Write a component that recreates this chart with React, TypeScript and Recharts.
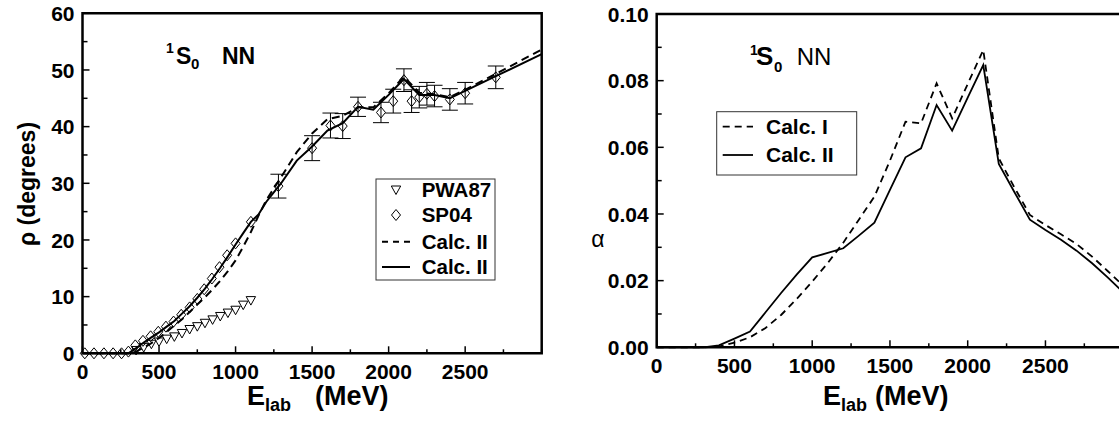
import React from "react"
import {
  ComposedChart,
  Line,
  Scatter,
  ErrorBar,
  XAxis,
  YAxis,
  ReferenceArea,
} from "recharts"

const FONT = '"Liberation Sans", Arial, Helvetica, sans-serif'

// ---- left panel: rho (degrees) vs E_lab ----
const pwaE = [350, 400, 450, 500, 550, 600, 650, 700, 750, 800, 850, 900, 950, 1000, 1050, 1100]
const pwaRho = [0.5, 1.0, 1.6, 2.0, 2.5, 2.9, 3.5, 4.2, 4.7, 5.3, 5.9, 6.5, 7.1, 7.6, 8.5, 9.3]

const spLowE = [15, 75, 140, 200, 255, 300, 345, 395, 445, 495, 545, 595, 645, 700, 750, 795, 845, 895, 945, 1000, 1100]
const spLowRho = [0, 0, 0, 0, 0, 0.3, 1.4, 2.2, 3.0, 3.8, 4.7, 5.6, 6.8, 8.1, 9.6, 11.3, 13.2, 15.2, 17.3, 19.4, 23.2]

const spHighE = [1280, 1500, 1620, 1700, 1800, 1950, 2030, 2100, 2150, 2200, 2250, 2300, 2400, 2500, 2700]
const spHighRho = [29.5, 36.2, 40.2, 40.1, 43.5, 42.5, 44.5, 48.2, 44.5, 45.2, 45.8, 45.4, 44.8, 45.9, 48.7]
const spHighErr = [2.1, 2.2, 2.2, 2.2, 1.7, 1.8, 2.1, 2.0, 2.0, 1.9, 2.0, 1.9, 1.9, 1.9, 2.0]

const calcE = [0, 300, 350, 400, 450, 500, 550, 600, 650, 700, 750, 800, 850, 900, 950, 1000, 1050, 1100, 1150, 1200, 1300, 1400, 1500, 1600, 1700, 1800, 1900, 2000, 2100, 2200, 2300, 2400, 2500, 2700, 3000]
const rhoDashed = [0, 0, 0.3, 1.0, 1.8, 2.7, 3.8, 4.9, 6.0, 7.3, 8.6, 9.9, 11.3, 12.8, 14.5, 16.4, 18.8, 21.4, 24.3, 27.0, 31.2, 35.5, 38.8, 41.3, 41.9, 43.4, 43.4, 45.9, 48.8, 46.0, 45.7, 45.2, 46.5, 49.3, 53.6]
const rhoSolid = [0, 0, 0.9, 1.9, 2.8, 3.7, 4.7, 5.7, 7.0, 8.3, 9.8, 11.4, 13.2, 15.1, 17.1, 19.2, 21.2, 23.2, 24.5, 26.7, 30.1, 34.0, 36.5, 39.3, 40.6, 43.5, 43.0, 45.6, 48.4, 45.6, 45.6, 45.0, 46.3, 48.9, 52.8]

const leftXTicks = [0, 250, 500, 750, 1000, 1250, 1500, 1750, 2000, 2250, 2500, 2750, 3000]
const leftXLabels = [0, 500, 1000, 1500, 2000, 2500]
const leftYTicks = [0, 5, 10, 15, 20, 25, 30, 35, 40, 45, 50, 55, 60]
const leftYLabels = [0, 10, 20, 30, 40, 50, 60]

// ---- right panel: alpha vs E_lab ----
const alphaE = [0, 300, 400, 500, 600, 700, 800, 900, 1000, 1100, 1200, 1300, 1400, 1500, 1600, 1700, 1800, 1900, 2000, 2100, 2200, 2300, 2400, 2500, 2600, 2700, 2800, 2900, 3000]
const alphaCalcI = [0, 0, 0.0002, 0.0014, 0.003, 0.0058, 0.0097, 0.0145, 0.0197, 0.0253, 0.0314, 0.0383, 0.0452, 0.056, 0.0677, 0.0672, 0.0792, 0.0687, 0.079, 0.0892, 0.0567, 0.048, 0.0397, 0.0367, 0.0339, 0.031, 0.0272, 0.0229, 0.0185]
const alphaCalcII = [0, 0, 0.0006, 0.0026, 0.0047, 0.0105, 0.0163, 0.0218, 0.027, 0.0283, 0.0297, 0.0335, 0.0374, 0.0472, 0.057, 0.0597, 0.0727, 0.065, 0.0749, 0.0847, 0.055, 0.0466, 0.0383, 0.0352, 0.0323, 0.029, 0.0252, 0.021, 0.0165]

const rightXTicks = [0, 250, 500, 750, 1000, 1250, 1500, 1750, 2000, 2250, 2500, 2750, 3000]
const rightXLabels = [0, 500, 1000, 1500, 2000, 2500]
const rightYTicks = [0, 0.01, 0.02, 0.03, 0.04, 0.05, 0.06, 0.07, 0.08, 0.09, 0.1]
const rightYLabels = [0, 0.02, 0.04, 0.06, 0.08, 0.1]

const zip = (xs: number[], ys: number[]) => xs.map((E, i) => ({ E, v: ys[i] }))

const pwaData = zip(pwaE, pwaRho)
const spLowData = zip(spLowE, spLowRho)
const spHighData = spHighE.map((E, i) => ({ E, v: spHighRho[i], err: spHighErr[i] }))
const dashedRho = zip(calcE, rhoDashed)
const solidRho = zip(calcE, rhoSolid)
const calcIData = zip(alphaE, alphaCalcI)
const calcIIData = zip(alphaE, alphaCalcII)

const Diamond = ({ cx, cy }: any) => (
  <polygon
    points={`${cx},${cy - 5.5} ${cx + 4.5},${cy} ${cx},${cy + 5.5} ${cx - 4.5},${cy}`}
    fill="none"
    stroke="#000"
    strokeWidth={1}
  />
)

const TriangleDown = ({ cx, cy }: any) => (
  <polygon
    points={`${cx - 4.7},${cy - 4} ${cx + 4.7},${cy - 4} ${cx},${cy + 4.5}`}
    fill="none"
    stroke="#000"
    strokeWidth={1}
  />
)

const BottomTick = ({ x, y, payload, labels }: any) => {
  const major = labels.some((l: number) => Math.abs(l - payload.value) < 1e-9)
  return (
    <g>
      <line x1={x} x2={x} y1={y} y2={y - (major ? 7 : 4)} stroke="#000" strokeWidth={1.5} />
      {major && (
        <text x={x} y={y + 26} textAnchor="middle" fontFamily={FONT} fontWeight="bold" fontSize={21} fill="#000">
          {payload.value}
        </text>
      )}
    </g>
  )
}

const LeftTick = ({ x, y, payload, labels, fmt }: any) => {
  const major = labels.some((l: number) => Math.abs(l - payload.value) < 1e-9)
  return (
    <g>
      <line x1={x} x2={x + (major ? 7 : 5)} y1={y} y2={y} stroke="#000" strokeWidth={1.5} />
      {major && (
        <text x={x - 8} y={y} dy="0.36em" textAnchor="end" fontFamily={FONT} fontWeight="bold" fontSize={21} fill="#000">
          {fmt(payload.value)}
        </text>
      )}
    </g>
  )
}

const txt = { fontFamily: FONT, fill: "#000" }

function LeftPanel() {
  return (
    <ComposedChart width={560} height={427} margin={{ top: 13.3, right: 18.3, bottom: 0, left: 0 }}>
      <XAxis
        type="number"
        dataKey="E"
        domain={[0, 3000]}
        ticks={leftXTicks}
        interval={0}
        height={73.7}
        axisLine={false}
        tickLine={false}
        tickSize={0}
        tickMargin={0}
        tick={(p: any) => <BottomTick {...p} labels={leftXLabels} />}
      />
      <YAxis
        type="number"
        domain={[0, 60]}
        ticks={leftYTicks}
        interval={0}
        width={82.5}
        axisLine={false}
        tickLine={false}
        tickSize={0}
        tickMargin={0}
        tick={(p: any) => <LeftTick {...p} labels={leftYLabels} fmt={(v: number) => String(v)} />}
      />
      <ReferenceArea x1={0} x2={3000} y1={0} y2={60} fill="none" stroke="#000" strokeWidth={2.5} />
      <Line data={dashedRho} dataKey="v" type="linear" stroke="#000" strokeWidth={2} strokeDasharray="8 5" dot={false} isAnimationActive={false} />
      <Line data={solidRho} dataKey="v" type="linear" stroke="#000" strokeWidth={2} dot={false} isAnimationActive={false} />
      <Scatter data={pwaData} dataKey="v" shape={(p: any) => <TriangleDown {...p} />} isAnimationActive={false} />
      <Scatter data={spLowData} dataKey="v" shape={(p: any) => <Diamond {...p} />} isAnimationActive={false} />
      <Scatter data={spHighData} dataKey="v" shape={(p: any) => <Diamond {...p} />} isAnimationActive={false}>
        <ErrorBar dataKey="err" direction="y" width={8} stroke="#000" strokeWidth={1} />
      </Scatter>

      {/* annotation */}
      <text {...txt} fontWeight="bold">
        <tspan x={166} y={53} fontSize={14}>1</tspan>
        <tspan x={176} y={63.5} fontSize={23}>S</tspan>
        <tspan x={191} y={69} fontSize={15}>0</tspan>
        <tspan x={222} y={63.5} fontSize={23}>NN</tspan>
      </text>

      {/* legend */}
      <g>
        <rect x={376} y={179} width={119} height={101} fill="#fff" stroke="#333" strokeWidth={1} />
        <TriangleDown cx={396} cy={190} />
        <Diamond cx={396} cy={215} />
        <line x1={382} x2={410} y1={241.7} y2={241.7} stroke="#000" strokeWidth={2} strokeDasharray="6 5" />
        <line x1={382} x2={410} y1={267} y2={267} stroke="#000" strokeWidth={2} />
        <text {...txt} fontWeight="bold" fontSize={20.5}>
          <tspan x={421.7} y={197.3}>PWA87</tspan>
          <tspan x={421.7} y={222.3}>SP04</tspan>
          <tspan x={421.7} y={249}>Calc. II</tspan>
          <tspan x={421.7} y={274.3}>Calc. II</tspan>
        </text>
      </g>

      {/* axis titles */}
      <text {...txt} fontWeight="bold" fontSize={27}>
        <tspan x={247} y={405}>E</tspan>
        <tspan dy={6} fontSize={18}>lab</tspan>
        <tspan dy={-6} dx={24}>(MeV)</tspan>
      </text>
      <text {...txt} fontWeight="bold" fontSize={23} textAnchor="middle" transform="translate(35,184) rotate(-90)">
        ρ (degrees)
      </text>
    </ComposedChart>
  )
}

function RightPanel() {
  return (
    <ComposedChart width={545} height={427} margin={{ top: 14, right: 11.8, bottom: 0, left: 0 }}>
      <XAxis
        type="number"
        dataKey="E"
        domain={[0, 3000]}
        ticks={rightXTicks}
        interval={0}
        height={79.7}
        axisLine={false}
        tickLine={false}
        tickSize={0}
        tickMargin={0}
        tick={(p: any) => <BottomTick {...p} labels={rightXLabels} />}
      />
      <YAxis
        type="number"
        domain={[0, 0.1]}
        ticks={rightYTicks}
        interval={0}
        width={66.7}
        axisLine={false}
        tickLine={false}
        tickSize={0}
        tickMargin={0}
        tick={(p: any) => <LeftTick {...p} labels={rightYLabels} fmt={(v: number) => v.toFixed(2)} />}
      />
      <ReferenceArea x1={0} x2={3000} y1={0} y2={0.1} fill="none" stroke="#000" strokeWidth={2.5} />
      <Line data={calcIData} dataKey="v" type="linear" stroke="#000" strokeWidth={1.8} strokeDasharray="7 5" dot={false} isAnimationActive={false} />
      <Line data={calcIIData} dataKey="v" type="linear" stroke="#000" strokeWidth={1.8} dot={false} isAnimationActive={false} />

      {/* annotation */}
      <text {...txt}>
        <tspan x={160} y={55} fontSize={14} fontWeight="bold">1</tspan>
        <tspan x={166} y={65} fontSize={26} fontWeight="bold">S</tspan>
        <tspan x={184} y={71.5} fontSize={15} fontWeight="bold">0</tspan>
        <tspan x={206.7} y={65} fontSize={24}>NN</tspan>
      </text>

      {/* legend */}
      <g>
        <rect x={126.7} y={111.7} width={140} height={63.3} fill="#fff" stroke="#333" strokeWidth={1} />
        <line x1={132.7} x2={163} y1={126.7} y2={126.7} stroke="#000" strokeWidth={1.8} strokeDasharray="7 5" />
        <line x1={132.7} x2={163} y1={155} y2={155} stroke="#000" strokeWidth={1.8} />
        <text {...txt} fontWeight="bold" fontSize={21}>
          <tspan x={176} y={134}>Calc. I</tspan>
          <tspan x={176} y={162.3}>Calc. II</tspan>
        </text>
      </g>

      {/* axis titles */}
      <text {...txt} fontWeight="bold" fontSize={27}>
        <tspan x={233} y={405}>E</tspan>
        <tspan dy={6} fontSize={18}>lab</tspan>
        <tspan dy={-6} dx={8}>(MeV)</tspan>
      </text>
      <text {...txt} fontSize={23} textAnchor="middle" x={8} y={247}>
        α
      </text>
    </ComposedChart>
  )
}

export default function App() {
  return (
    <div style={{ position: "absolute", left: 0, top: 0, width: 1119, height: 427, overflow: "hidden", background: "#fff" }}>
      <div style={{ position: "absolute", left: 0, top: 0 }}>
        <LeftPanel />
      </div>
      <div style={{ position: "absolute", left: 590, top: 0 }}>
        <RightPanel />
      </div>
    </div>
  )
}
